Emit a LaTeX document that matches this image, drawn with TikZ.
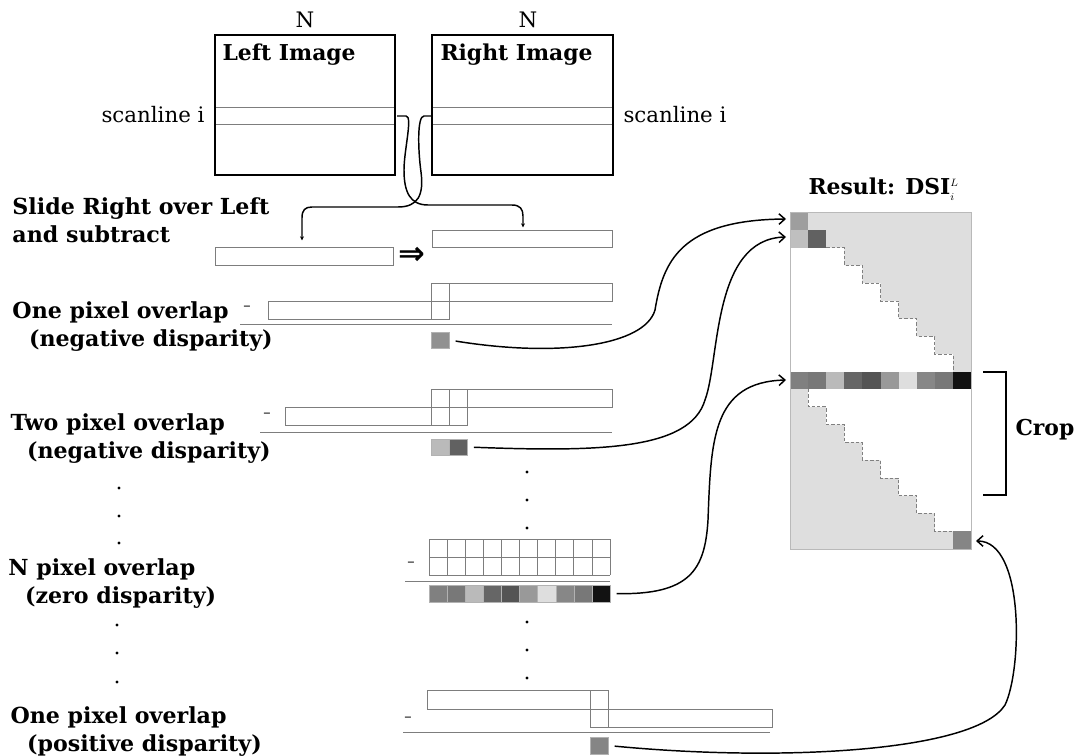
\documentclass[tikz,border=0pt]{standalone}
\usepackage{fontspec}
\setmainfont{DejaVu Serif}
\newfontfamily\arrowsym{DejaVu Sans}
\usetikzlibrary{arrows.meta}

\definecolor{invalid}{RGB}{222,222,222}
\definecolor{outline}{RGB}{125,125,125}

\tikzset{every picture/.style={line width=0.75pt}}
\tikzset{
  lab/.style={font=\bfseries\fontsize{16.6}{21}\selectfont, align=left, anchor=north west, inner sep=0pt},
  ttl/.style={font=\bfseries\fontsize{16.4}{18}\selectfont, inner sep=0pt},
  txt/.style={font=\fontsize{16}{18}\selectfont, inner sep=0pt},
  minus/.style={font=\fontsize{11}{11}\selectfont, inner sep=0pt},
  bar/.style={draw=outline, line width=0.6pt},
  scan/.style={draw=outline, line width=0.5pt},
  rule/.style={draw=outline, line width=0.7pt},
  pix/.style={minimum width=13.58pt, minimum height=12pt, inner sep=0pt, outer sep=0pt, draw=gray!60, line width=0.3pt},
  feed/.style={line width=1.1pt, -{Stealth[length=3pt,width=3pt]}},
  link/.style={line width=1.1pt, shorten <=5pt, -{Straight Barb[length=4.5pt,width=8pt]}},
  stair/.style={draw=gray, line width=0.5pt, dash pattern=on 2.5pt off 1.5pt},
}

\begin{document}
\begin{tikzpicture}[x=0.75pt,y=0.75pt,yscale=-1,xscale=1]
\useasboundingbox (0,0) rectangle (1079,756);

%Images
\node [draw, line width=2.2pt, minimum width=135pt, minimum height=105pt, inner sep=0pt] (limg) at (305,105) {};
\node [draw, line width=2.2pt, minimum width=135.75pt, minimum height=105pt, inner sep=0pt] (rimg) at (522.5,105) {};
\draw [scan] (216,107) -- (394,107) (216,124) -- (394,124) ;
\draw [scan] (433,107) -- (612,107) (433,124) -- (612,124) ;

% Text Node
\node [txt] (nleft) at (305,20) {N};
\node [txt] (nright) at (528,20) {N};
\node [ttl, anchor=base west] (tleft) at (222,61) {Left Image};
\node [ttl, anchor=base west] (tright) at (440,61) {Right Image};
\node [txt, anchor=base east] (scanl) at (205,123) {scanline i};
\node [txt, anchor=base west] (scanr) at (623,123) {scanline i};

%Slide row
\draw [bar] (215,247) rectangle (393,265) ;
\draw [bar] (432,230) rectangle (612,247) ;
\coordinate (barL) at (302,247);
\coordinate (barR) at (523,230);
\coordinate (lout) at (397,116);
\coordinate (rout) at (431,116);
\node [font=\arrowsym\bfseries\fontsize{24}{24}\selectfont, inner sep=0pt] (dbl) at (412,256) {⇒};

%Curve Lines
\draw [feed, shorten >=2pt] (lout) -- (406,116) .. controls (413,116) and (404,150) .. (404,170) .. controls (404,192) and (410,205) .. (428,205) -- (512,205) .. controls (520,205) and (523,209) .. (523,216) -- (barR) ;
\draw [feed, shorten >=5pt] (rout) -- (424,116) .. controls (417,116) and (418,150) .. (421,172) .. controls (424,195) and (418,207) .. (398,207) -- (312,207) .. controls (305,207) and (302,210) .. (302,218) -- (barL) ;

%One pixel overlap, negative
\draw [bar] (431,283) rectangle (612,301) ;
\draw [bar] (268,301) rectangle (449,319) ;
\draw [bar] (431,283) rectangle (449,319) ;
\node [minus] (mi1) at (247,308) {–};
\draw [rule] (240,324) -- (612,324) ;
\node [pix, fill=black!43] (sq1) at (440,340) {};

%Two pixel overlap, negative
\draw [bar] (431,389) rectangle (612,407) ;
\draw [bar] (285,407) rectangle (467,425) ;
\draw [bar] (431,389) rectangle (467,425) (449,389) -- (449,425) ;
\node [minus] (mi2) at (267,415) {–};
\draw [rule] (260,432) -- (612,432) ;
\node [pix, fill=black!27] (sq2a) at (440,447) {};
\node [pix, fill=black!62] (sq2b) at (458.1,447) {};

%N pixel overlap
\foreach \i in {0,...,10}
  \draw [bar] (429+\i*18.1,539) -- (429+\i*18.1,575) ;
\draw [bar] (429,539) -- (610,539) (429,557) -- (610,557) (429,575) -- (610,575) ;
\node [minus] (mi3) at (411,564) {–};
\draw [rule] (405,581) -- (610,581) ;
\foreach \v [count=\i from 0] in {50,53,27,60,67,40,13,47,53,93}
  \node [pix, fill=black!\v, minimum height=12.75pt] (z\i) at (438.05+\i*18.1,593.5) {};

%One pixel overlap, positive
\draw [bar] (427,690) rectangle (608,709) ;
\draw [bar] (590,709) rectangle (772,727) ;
\draw [bar] (590,690) rectangle (608,727) ;
\node [minus] (mi4) at (408,719) {–};
\draw [rule] (403,732) -- (770,732) ;
\node [pix, fill=black!48, minimum height=12.75pt] (sqP) at (599,745.5) {};

%dots
\foreach \y in {488,516,543} \fill (119,\y) circle (1.6) ;
\foreach \y in {625,653,682} \fill (117,\y) circle (1.6) ;
\foreach \y in {472,500,528} \fill (527,\y) circle (1.6) ;
\foreach \y in {622,650,678} \fill (527,\y) circle (1.6) ;

% Left labels
\node [lab] (lslide) at (12,197) {Slide Right over Left\\and subtract};
\node [lab] (lneg1) at (12,301) {One pixel overlap\\\hspace{0.75em}(negative disparity)};
\node [lab] (lneg2) at (10,413) {Two pixel overlap\\\hspace{0.75em}(negative disparity)};
\node [lab] (lzero) at (8,558) {N pixel overlap\\\hspace{0.75em}(zero disparity)};
\node [lab] (lpos) at (10,706) {One pixel overlap\\\hspace{0.75em}(positive disparity)};

%Result matrix
\fill [invalid] (790,212) rectangle (971,549) ;
\fill [white] (790,247.56) \foreach \k in {2,...,8} { -- ({790+(\k+1)*18.1},{212+\k*17.78}) -- ({790+(\k+1)*18.1},{212+(\k+1)*17.78}) } -- (790,372) -- cycle ;
\draw [stair] (826.2,247.56) \foreach \k in {2,...,8} { -- ({790+(\k+1)*18.1},{212+\k*17.78}) -- ({790+(\k+1)*18.1},{212+(\k+1)*17.78}) } ;
\fill [white] (808.1,389) -- (971,389) -- (971,531.24) \foreach \j in {8,...,1} { -- ({790+\j*18.1},{389+\j*17.78}) -- ({790+\j*18.1},{389+(\j-1)*17.78}) } -- cycle ;
\draw [stair] (808.1,389) \foreach \j in {1,...,8} { -- ({790+\j*18.1},{389+\j*17.78}) -- ({790+(\j+1)*18.1},{389+\j*17.78}) } ;
\fill [black!38] (790,212) rectangle ++(18.1,17.78) ;
\fill [black!25] (790,229.78) rectangle ++(18.1,17.78) ;
\fill [black!62] (808.1,229.78) rectangle ++(18.1,17.78) ;
\foreach \v [count=\i from 0] in {50,53,27,60,67,40,13,47,53,93}
  \fill [black!\v] (790+\i*18.1,372) rectangle ++(18.1,17) ;
\fill [black!48] (952.9,531.24) rectangle (971,549) ;
\draw [gray!55, line width=0.5pt] (790,212) rectangle (971,549) ;
\coordinate (m0) at (786,219);
\coordinate (m1) at (786,237);
\coordinate (mz) at (786,380);
\coordinate (mb) at (976,541);

\node [ttl, anchor=base west] (res) at (808,195) {Result: DSI$^{\scriptscriptstyle L}_{\scriptscriptstyle i}$};
\draw [line width=1.6pt] (983,372) -- (1006,372) -- (1006,495) -- (983,495) ;
\node [ttl, anchor=base west] (crop) at (1015,435) {Crop};

%Links to result
\draw [link] (sq1.east) .. controls (560,358) and (645,345) .. (655,310) .. controls (663,262) and (680,220) .. (m0) ;
\draw [link] (sq2b.east) .. controls (600,452) and (690,450) .. (705,400) .. controls (720,360) and (712,239) .. (m1) ;
\draw [link] (z9.east) .. controls (690,595) and (705,570) .. (708,520) .. controls (711,440) and (712,382) .. (mz) ;
\draw [link] (sqP.east) .. controls (780,762) and (975,752) .. (1005,705) .. controls (1022,670) and (1025,541) .. (mb) ;

\end{tikzpicture}
\end{document}
